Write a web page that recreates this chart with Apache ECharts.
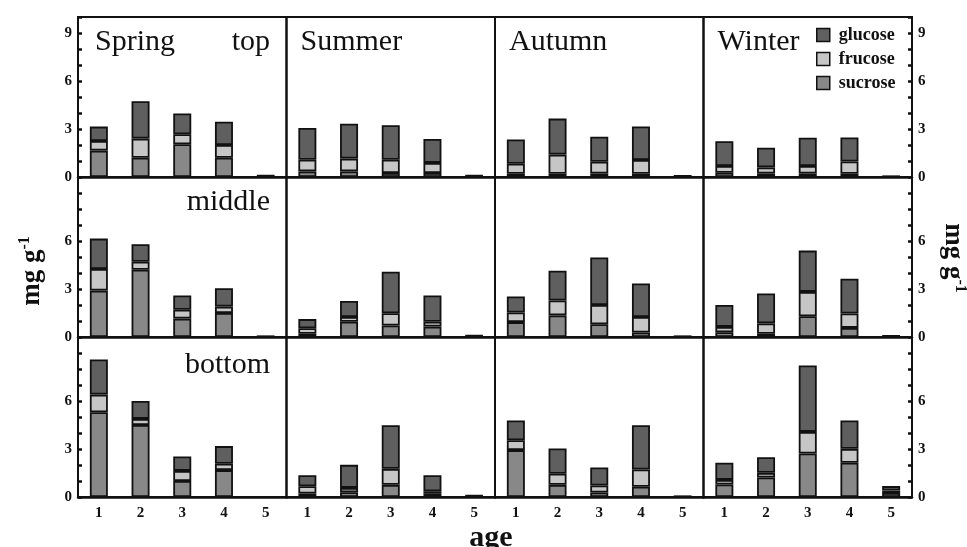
<!DOCTYPE html>
<html><head><meta charset="utf-8">
<script src="https://cdn.jsdelivr.net/npm/echarts@6/dist/echarts.min.js"></script>
<style>html,body{margin:0;padding:0;background:#fff}#c{width:967px;height:547px}</style>
</head><body><div id="c"></div>
<script>
// ---- data ----
const ages = ['1', '2', '3', '4', '5'];
const seasons = ['Spring', 'Summer', 'Autumn', 'Winter'];
const positions = ['top', 'middle', 'bottom'];
const sugars = ['glucose', 'frucose', 'sucrose'];
const yLabelsTop = [0, 3, 6, 9];
const yLabelsMiddle = [0, 3, 6];
const yLabelsBottom = [0, 3, 6];

// each array: [Spring, Summer, Autumn, Winter], each with ages 1..5 (mg g-1)
const topSucrose = [[1.65, 1.2, 2.05, 1.2, 0.04], [0.35, 0.35, 0.25, 0.25, 0.04], [0.2, 0.2, 0.22, 0.2, 0.03], [0.27, 0.22, 0.22, 0.2, 0.02]];
const topFrucose = [[0.6, 1.2, 0.62, 0.8, 0.02], [0.73, 0.8, 0.83, 0.63, 0.02], [0.63, 1.2, 0.73, 0.86, 0.02], [0.42, 0.38, 0.47, 0.77, 0.01]];
const topGlucose = [[0.9, 2.33, 1.3, 1.45, 0.04], [1.98, 2.18, 2.15, 1.5, 0.04], [1.52, 2.25, 1.57, 2.1, 0.03], [1.54, 1.23, 1.77, 1.5, 0.02]];

const middleSucrose = [[2.9, 4.2, 1.15, 1.5, 0.02], [0.2, 0.95, 0.72, 0.65, 0.04], [0.93, 1.35, 0.8, 0.28, 0.02], [0.3, 0.2, 1.3, 0.57, 0.03]];
const middleFrucose = [[1.35, 0.5, 0.55, 0.4, 0.01], [0.35, 0.3, 0.76, 0.3, 0.02], [0.6, 0.93, 1.2, 0.97, 0.01], [0.33, 0.65, 1.52, 0.9, 0.02]];
const middleGlucose = [[1.9, 1.1, 0.9, 1.15, 0.02], [0.57, 1.0, 2.6, 1.65, 0.04], [1.0, 1.86, 2.97, 2.09, 0.02], [1.37, 1.87, 2.58, 2.17, 0.03]];

const bottomSucrose = [[5.3, 4.5, 1.0, 1.68, 0], [0.22, 0.3, 0.76, 0.2, 0.04], [2.93, 0.76, 0.28, 0.64, 0.02], [0.78, 1.22, 2.72, 2.14, 0.25]];
const bottomFrucose = [[1.1, 0.38, 0.63, 0.4, 0], [0.45, 0.27, 1.0, 0.16, 0.02], [0.62, 0.69, 0.44, 1.08, 0.01], [0.29, 0.29, 1.35, 0.87, 0.15]];
const bottomGlucose = [[2.2, 1.12, 0.9, 1.1, 0], [0.69, 1.44, 2.73, 1.0, 0.04], [1.23, 1.58, 1.12, 2.77, 0.02], [1.07, 0.98, 4.15, 1.77, 0.28]];

// ---- build ----
const rowData = [
  { sucrose: topSucrose, frucose: topFrucose, glucose: topGlucose, labels: yLabelsTop },
  { sucrose: middleSucrose, frucose: middleFrucose, glucose: middleGlucose, labels: yLabelsMiddle },
  { sucrose: bottomSucrose, frucose: bottomFrucose, glucose: bottomGlucose, labels: yLabelsBottom }
];
const colors = { glucose: '#5f5f5f', frucose: '#c6c6c6', sucrose: '#888888' };
const serif = '"Liberation Serif", "Times New Roman", serif';
const ink = '#111';

const L0 = 78, W = 208.5, T0 = 17, H = 160;
const grid = [], xAxis = [], yAxis = [], series = [], graphic = [];

for (let r = 0; r < 3; r++) {
  for (let c = 0; c < 4; c++) {
    const idx = r * 4 + c;
    grid.push({ left: L0 + c * W, top: T0 + r * H, width: W, height: H,
      show: true, borderColor: ink, borderWidth: 2, backgroundColor: 'transparent' });
    xAxis.push({ type: 'category', gridIndex: idx, data: ages,
      axisLine: { show: true, lineStyle: { color: ink, width: 2.5 } },
      axisTick: { show: false },
      axisLabel: { show: r === 2, fontFamily: serif, fontWeight: 'bold', fontSize: 15, color: ink, margin: 9 } });
    const labs = rowData[r].labels;
    const edge = c === 0 || c === 3;
    yAxis.push({ type: 'value', gridIndex: idx, min: 0, max: 10, interval: 1,
      position: c === 3 ? 'right' : 'left',
      splitLine: { show: false },
      axisLine: { show: edge, lineStyle: { color: ink, width: 2 } },
      axisTick: { show: edge, inside: true, length: 4, lineStyle: { color: ink, width: 2.5 } },
      axisLabel: { show: edge, fontFamily: serif, fontWeight: 'bold', fontSize: 15, color: ink, margin: 6,
        formatter: v => labs.indexOf(v) >= 0 ? String(v) : '' } });
    ['sucrose', 'frucose', 'glucose'].forEach(s => {
      series.push({ type: 'bar', name: s, xAxisIndex: idx, yAxisIndex: idx, stack: 'p' + idx,
        data: rowData[r][s][c], barWidth: 18, silent: true,
        itemStyle: { color: colors[s], borderColor: ink, borderWidth: 1.8 } });
    });
  }
}

// season labels and position labels
seasons.forEach((s, c) => {
  graphic.push({ type: 'text', left: L0 + c * W + (c === 0 ? 17 : 14), top: 27,
    style: { text: s, font: '30px ' + serif, fill: ink } });
});
const posY = [27, 187, 350];
positions.forEach((p, r) => {
  graphic.push({ type: 'text', right: 967 - 270, top: posY[r],
    style: { text: p, font: '30px ' + serif, fill: ink } });
});
// axis titles
graphic.push({ type: 'text', x: 491, y: 538,
  style: { text: 'age', font: 'bold 30px ' + serif, fill: ink, align: 'center', verticalAlign: 'middle' } });
const rich = { a: { fontFamily: serif, fontWeight: 'bold', fontSize: 27, fill: ink, color: ink },
               b: { fontFamily: serif, fontWeight: 'bold', fontSize: 16, fill: ink, color: ink, padding: [0, 0, 14, 0] } };
graphic.push({ type: 'text', x: 32, y: 271, rotation: Math.PI / 2,
  style: { text: '{a|mg g}{b|-1}', rich: rich, align: 'center', verticalAlign: 'middle' } });
graphic.push({ type: 'text', x: 953, y: 258, rotation: -Math.PI / 2,
  style: { text: '{a|mg g}{b|-1}', rich: rich, align: 'center', verticalAlign: 'middle' } });

const chart = echarts.init(document.getElementById('c'), null, { renderer: 'canvas' });
chart.setOption({
  animation: false,
  backgroundColor: '#fff',
  grid, xAxis, yAxis, series, graphic,
  legend: { orient: 'vertical', left: 811, top: 21, itemWidth: 13, itemHeight: 13, itemGap: 6,
    icon: 'rect', data: sugars, selectedMode: false,
    itemStyle: { borderColor: ink, borderWidth: 1.5 },
    textStyle: { fontFamily: serif, fontWeight: 'bold', fontSize: 18, color: ink, padding: [0, 0, 0, 4] } }
});
</script></body></html>
